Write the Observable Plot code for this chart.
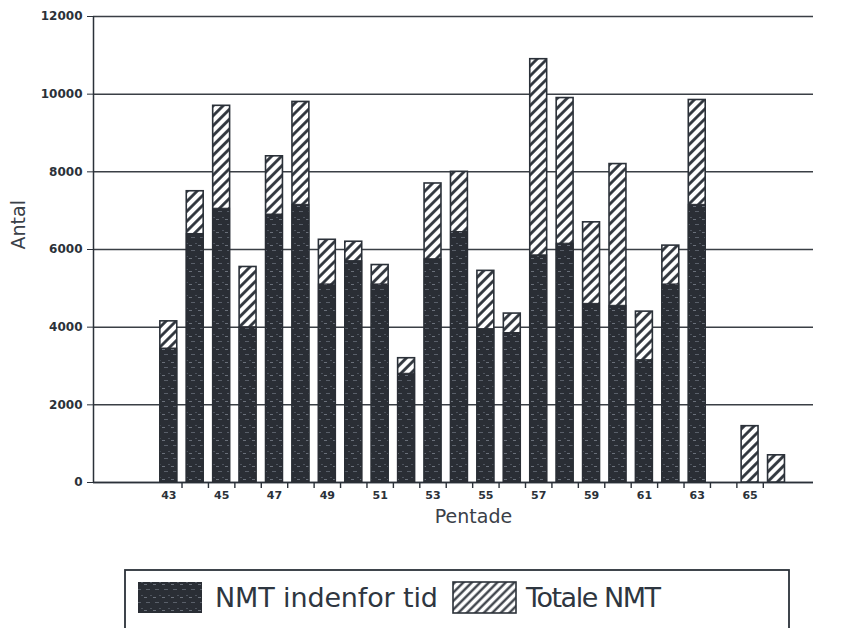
<!DOCTYPE html>
<html>
<head>
<meta charset="utf-8">
<script src="https://cdn.jsdelivr.net/npm/d3@7"></script>
<script src="https://cdn.jsdelivr.net/npm/@observablehq/plot@0.6"></script>
<style>
  body { margin: 0; background: #fff; }
  #chart svg { display: block; }
</style>
</head>
<body>
<div id="chart"></div>
<script>
// ---- data ----
const pentade  = [43, 44, 45, 46, 47, 48, 49, 50, 51, 52, 53, 54, 55, 56, 57, 58, 59, 60, 61, 62, 63, 65, 66];
const indenfor = [3450, 6400, 7050, 4000, 6900, 7150, 5100, 5700, 5100, 2800, 5750, 6450, 3950, 3850, 5850, 6150, 4600, 4550, 3150, 5100, 7150, 0, 0];
const totale   = [4150, 7500, 9700, 5550, 8400, 9800, 6250, 6200, 5600, 3200, 7700, 8000, 5450, 4350, 10900, 9900, 6700, 8200, 4400, 6100, 9850, 1450, 700];
const xTickLabels = [43, 45, 47, 49, 51, 53, 55, 57, 59, 61, 63, 65];
const yTicks = [0, 2000, 4000, 6000, 8000, 10000, 12000];
const seriesNames = ["NMT indenfor tid", "Totale NMT"];
const xLabel = "Pentade";
const yLabel = "Antal";

const rows = pentade.map((p, i) => ({p, inden: indenfor[i], total: totale[i]}));
const halfW = 0.32;
const xDomain = [40.15, 67.4];
const boundaries = d3.range(43, 66).map(p => p + 0.5);

const ink = "#2b3139";
const dark = "#2a2e35";

const plot = Plot.plot({
  width: 845,
  height: 560,
  marginTop: 16,
  marginLeft: 93,
  marginRight: 32,
  marginBottom: 78,
  style: {fontFamily: "DejaVu Sans, sans-serif", color: ink, background: "white", overflow: "visible"},
  x: {type: "linear", domain: xDomain, axis: null},
  y: {domain: [0, 12000], axis: null},
  marks: [
    Plot.gridY(yTicks, {stroke: "#3a3f45", strokeOpacity: 1, strokeWidth: 1.5}),
    Plot.axisY(yTicks, {tickSize: 6, tickPadding: 5, fontSize: 12, fontWeight: "bold", label: null, tickFormat: d => String(d)}),
    Plot.ruleX([xDomain[0]], {y1: 0, y2: 12000, stroke: ink, strokeWidth: 1.5}),
    Plot.ruleY([0], {stroke: ink, strokeWidth: 1.6}),
    Plot.axisX(boundaries, {tickSize: 6, tickFormat: () => "", label: null, strokeWidth: 1.4}),
    Plot.axisX(xTickLabels, {tickSize: 0, tickPadding: 9, fontSize: 11, fontWeight: "bold", label: null}),
    Plot.rect(rows, {x1: d => d.p - halfW, x2: d => d.p + halfW, y1: 0, y2: "total", fill: "url(#hatch)", stroke: ink, strokeWidth: 1.6}),
    Plot.rect(rows.filter(d => d.inden > 0), {x1: d => d.p - halfW, x2: d => d.p + halfW, y1: 0, y2: "inden", fill: "url(#darktex)", stroke: dark, strokeWidth: 1}),
    Plot.text([yLabel], {frameAnchor: "left", dx: -75, rotate: -90, fontSize: 19, fill: "#3a4048"}),
    Plot.text([xLabel], {frameAnchor: "bottom", dx: 20, dy: 40, fontSize: 19, fill: "#3a4048"})
  ]
});

d3.select(plot).insert("defs", ":first-child").html(
  `<pattern id="hatch" patternUnits="userSpaceOnUse" width="7" height="7" patternTransform="rotate(45)">
     <rect width="7" height="7" fill="white"/>
     <line x1="1.5" y1="0" x2="1.5" y2="7" stroke="${ink}" stroke-width="2.8"/>
   </pattern>
   <pattern id="darktex" patternUnits="userSpaceOnUse" width="9" height="13">
     <rect width="9" height="13" fill="${dark}"/>
     <rect x="2" y="3" width="4" height="1" fill="#5a606a"/>
     <rect x="6" y="9" width="2" height="1" fill="#4e545e"/>
     <rect x="0" y="11" width="3" height="1" fill="#6a707a"/>
   </pattern>`);

document.getElementById("chart").appendChild(plot);

// ---- legend below the plot ----
const legend = d3.create("svg").attr("width", 845).attr("height", 68)
  .style("font-family", "DejaVu Sans, sans-serif");
legend.append("defs").html(
  `<pattern id="hatchL" patternUnits="userSpaceOnUse" width="6" height="6" patternTransform="rotate(45)">
     <rect width="6" height="6" fill="white"/>
     <line x1="1.5" y1="0" x2="1.5" y2="6" stroke="${ink}" stroke-width="2.2"/>
   </pattern>`);
legend.append("rect").attr("x", 125).attr("y", 10).attr("width", 664).attr("height", 80)
  .attr("fill", "none").attr("stroke", ink).attr("stroke-width", 1.8);
legend.append("rect").attr("x", 138).attr("y", 22).attr("width", 64).attr("height", 31).attr("fill", "url(#darktex)");
legend.append("text").attr("x", 215).attr("y", 47).attr("font-size", 27).attr("fill", "#2e3640")
  .attr("textLength", 223).attr("lengthAdjust", "spacing").text(seriesNames[0]);
legend.append("rect").attr("x", 453).attr("y", 22).attr("width", 63).attr("height", 31)
  .attr("fill", "url(#hatchL)").attr("stroke", ink).attr("stroke-width", 1.6);
legend.append("text").attr("x", 526).attr("y", 47).attr("font-size", 27).attr("fill", "#2e3640")
  .attr("textLength", 135).attr("lengthAdjust", "spacing").text(seriesNames[1]);
document.getElementById("chart").appendChild(legend.node());
</script>
</body>
</html>
